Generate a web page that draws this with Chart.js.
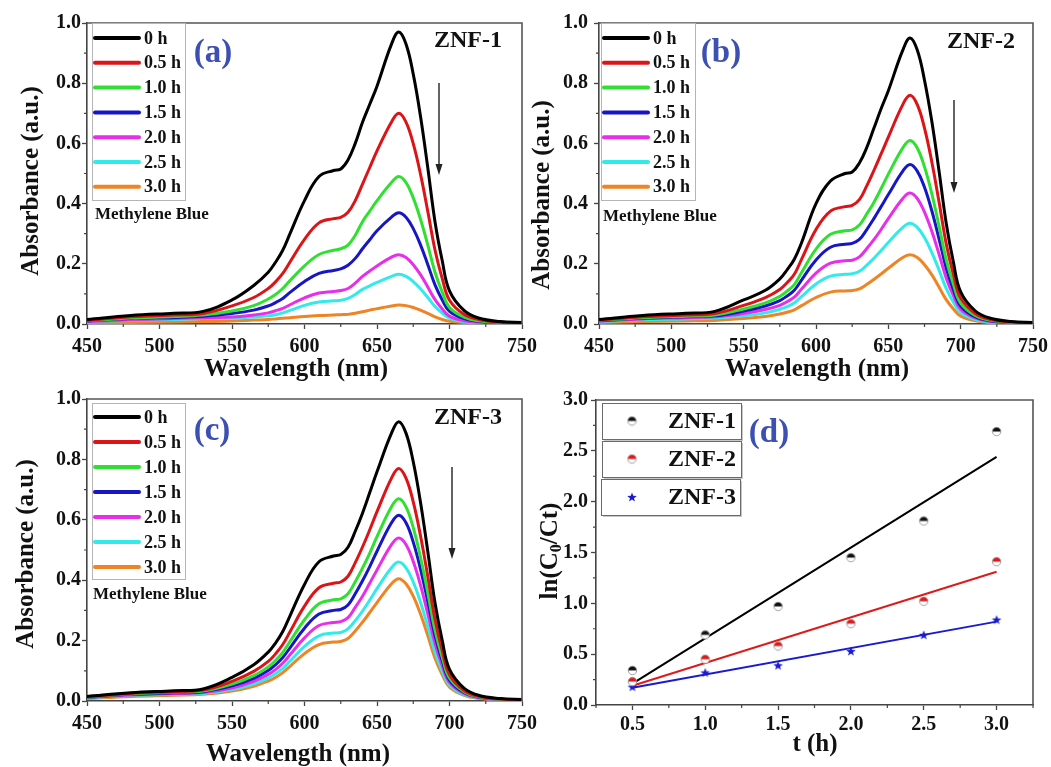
<!DOCTYPE html>
<html>
<head>
<meta charset="utf-8">
<script src="https://cdn.jsdelivr.net/npm/chart.js@4.4.0/dist/chart.umd.min.js"></script>
<style>
html, body { margin: 0; padding: 0; background: #fff; }
#wrap { position: relative; width: 1051px; height: 767px; }
#wrap canvas { position: absolute; left: 0; top: 0; }
</style>
</head>
<body>
<div id="wrap">
  <canvas id="pa" width="1051" height="767"></canvas>
  <canvas id="pb" width="1051" height="767"></canvas>
  <canvas id="pc" width="1051" height="767"></canvas>
  <canvas id="pd" width="1051" height="767"></canvas>
</div>
<script>
'use strict';

// ---- data ----
var wavelengths = [450, 480, 510, 530, 550, 565, 575, 580, 585, 590, 600, 610, 620, 625, 630, 635, 640, 645, 650, 660, 665, 670, 675, 680, 685, 690, 695, 700, 710, 720, 735, 750];
var hours = ['0 h', '0.5 h', '1.0 h', '1.5 h', '2.0 h', '2.5 h', '3.0 h'];

// absorbance, one row per irradiation time (0 h ... 3.0 h)
var znf1Spectra = [
  [0.015, 0.028, 0.036, 0.042, 0.08, 0.128, 0.172, 0.205, 0.245, 0.30, 0.41, 0.49, 0.51, 0.515, 0.545, 0.60, 0.67, 0.73, 0.79, 0.93, 0.97, 0.93, 0.83, 0.69, 0.52, 0.34, 0.21, 0.11, 0.045, 0.02, 0.008, 0.005],
  [0.012, 0.024, 0.030, 0.035, 0.06, 0.088, 0.118, 0.14, 0.168, 0.206, 0.281, 0.336, 0.35, 0.354, 0.371, 0.41, 0.465, 0.52, 0.575, 0.671, 0.70, 0.671, 0.599, 0.498, 0.375, 0.246, 0.151, 0.079, 0.032, 0.015, 0.006, 0.004],
  [0.011, 0.02, 0.025, 0.03, 0.043, 0.061, 0.083, 0.098, 0.118, 0.144, 0.193, 0.231, 0.245, 0.25, 0.262, 0.295, 0.34, 0.375, 0.41, 0.47, 0.49, 0.47, 0.419, 0.348, 0.263, 0.172, 0.106, 0.055, 0.023, 0.011, 0.005, 0.003],
  [0.01, 0.018, 0.022, 0.026, 0.035, 0.046, 0.06, 0.071, 0.085, 0.105, 0.141, 0.168, 0.178, 0.183, 0.195, 0.218, 0.25, 0.28, 0.31, 0.355, 0.37, 0.355, 0.317, 0.263, 0.198, 0.13, 0.08, 0.042, 0.018, 0.009, 0.004, 0.003],
  [0.008, 0.014, 0.018, 0.021, 0.023, 0.03, 0.037, 0.044, 0.052, 0.064, 0.087, 0.103, 0.108, 0.111, 0.118, 0.136, 0.158, 0.176, 0.193, 0.222, 0.23, 0.221, 0.197, 0.164, 0.123, 0.081, 0.05, 0.026, 0.011, 0.006, 0.003, 0.002],
  [0.007, 0.012, 0.015, 0.018, 0.019, 0.023, 0.027, 0.031, 0.037, 0.045, 0.062, 0.073, 0.077, 0.079, 0.085, 0.098, 0.115, 0.127, 0.138, 0.158, 0.165, 0.158, 0.141, 0.117, 0.088, 0.058, 0.036, 0.019, 0.008, 0.004, 0.002, 0.002],
  [0.003, 0.005, 0.007, 0.008, 0.01, 0.013, 0.015, 0.017, 0.019, 0.021, 0.025, 0.028, 0.03, 0.031, 0.032, 0.036, 0.041, 0.046, 0.051, 0.06, 0.063, 0.061, 0.055, 0.046, 0.035, 0.024, 0.015, 0.009, 0.005, 0.003, 0.002, 0.002]
];

var znf2Spectra = [
  [0.015, 0.028, 0.036, 0.042, 0.08, 0.112, 0.15, 0.18, 0.215, 0.27, 0.40, 0.475, 0.50, 0.505, 0.535, 0.585, 0.65, 0.715, 0.775, 0.91, 0.95, 0.91, 0.81, 0.675, 0.51, 0.335, 0.205, 0.107, 0.044, 0.02, 0.008, 0.005],
  [0.013, 0.024, 0.03, 0.035, 0.062, 0.088, 0.115, 0.137, 0.165, 0.215, 0.314, 0.375, 0.39, 0.394, 0.413, 0.458, 0.51, 0.565, 0.621, 0.729, 0.76, 0.729, 0.651, 0.54, 0.407, 0.267, 0.164, 0.086, 0.035, 0.016, 0.007, 0.004],
  [0.012, 0.021, 0.026, 0.03, 0.05, 0.07, 0.092, 0.109, 0.131, 0.171, 0.249, 0.298, 0.31, 0.313, 0.329, 0.365, 0.404, 0.45, 0.498, 0.585, 0.61, 0.585, 0.522, 0.434, 0.327, 0.214, 0.132, 0.069, 0.028, 0.013, 0.005, 0.003],
  [0.011, 0.019, 0.024, 0.027, 0.043, 0.06, 0.078, 0.093, 0.112, 0.146, 0.213, 0.255, 0.265, 0.268, 0.281, 0.313, 0.35, 0.39, 0.43, 0.508, 0.53, 0.508, 0.454, 0.377, 0.284, 0.186, 0.114, 0.06, 0.024, 0.011, 0.005, 0.003],
  [0.01, 0.017, 0.021, 0.024, 0.035, 0.048, 0.062, 0.074, 0.089, 0.116, 0.169, 0.202, 0.21, 0.212, 0.223, 0.25, 0.28, 0.314, 0.35, 0.417, 0.435, 0.417, 0.372, 0.309, 0.233, 0.153, 0.094, 0.049, 0.02, 0.009, 0.004, 0.003],
  [0.008, 0.014, 0.017, 0.02, 0.027, 0.037, 0.049, 0.058, 0.07, 0.091, 0.133, 0.159, 0.165, 0.167, 0.175, 0.195, 0.218, 0.244, 0.271, 0.321, 0.335, 0.321, 0.287, 0.238, 0.18, 0.118, 0.072, 0.038, 0.015, 0.007, 0.003, 0.002],
  [0.005, 0.008, 0.01, 0.012, 0.018, 0.025, 0.033, 0.039, 0.047, 0.061, 0.088, 0.106, 0.11, 0.111, 0.117, 0.131, 0.148, 0.166, 0.185, 0.221, 0.23, 0.221, 0.197, 0.164, 0.123, 0.081, 0.05, 0.026, 0.011, 0.005, 0.003, 0.002]
];

var znf3Spectra = [
  [0.015, 0.027, 0.034, 0.04, 0.078, 0.12, 0.162, 0.192, 0.23, 0.282, 0.386, 0.461, 0.48, 0.485, 0.509, 0.562, 0.622, 0.69, 0.759, 0.887, 0.925, 0.887, 0.792, 0.658, 0.496, 0.325, 0.20, 0.105, 0.043, 0.019, 0.008, 0.005],
  [0.014, 0.025, 0.031, 0.036, 0.065, 0.098, 0.131, 0.156, 0.187, 0.229, 0.314, 0.375, 0.39, 0.394, 0.413, 0.458, 0.51, 0.567, 0.627, 0.738, 0.77, 0.738, 0.659, 0.547, 0.413, 0.27, 0.166, 0.087, 0.035, 0.016, 0.007, 0.004],
  [0.013, 0.023, 0.029, 0.033, 0.056, 0.084, 0.113, 0.134, 0.161, 0.197, 0.269, 0.322, 0.335, 0.338, 0.355, 0.395, 0.44, 0.49, 0.544, 0.643, 0.67, 0.643, 0.574, 0.476, 0.359, 0.235, 0.145, 0.076, 0.031, 0.014, 0.006, 0.004],
  [0.012, 0.022, 0.027, 0.031, 0.05, 0.075, 0.101, 0.12, 0.144, 0.176, 0.241, 0.288, 0.30, 0.303, 0.318, 0.355, 0.398, 0.445, 0.496, 0.59, 0.615, 0.59, 0.526, 0.437, 0.33, 0.216, 0.133, 0.069, 0.028, 0.013, 0.006, 0.003],
  [0.011, 0.02, 0.025, 0.028, 0.043, 0.065, 0.088, 0.104, 0.125, 0.153, 0.209, 0.25, 0.26, 0.263, 0.276, 0.31, 0.347, 0.39, 0.434, 0.518, 0.54, 0.518, 0.462, 0.384, 0.289, 0.19, 0.117, 0.061, 0.025, 0.011, 0.005, 0.003],
  [0.01, 0.018, 0.022, 0.025, 0.038, 0.056, 0.076, 0.09, 0.108, 0.132, 0.181, 0.216, 0.225, 0.227, 0.239, 0.266, 0.298, 0.334, 0.372, 0.441, 0.46, 0.441, 0.394, 0.327, 0.247, 0.161, 0.099, 0.052, 0.021, 0.01, 0.004, 0.003],
  [0.008, 0.015, 0.019, 0.022, 0.033, 0.049, 0.066, 0.078, 0.094, 0.115, 0.157, 0.187, 0.195, 0.197, 0.207, 0.232, 0.261, 0.293, 0.326, 0.388, 0.405, 0.388, 0.347, 0.288, 0.217, 0.142, 0.087, 0.046, 0.019, 0.009, 0.004, 0.002]
];

var waveTicks = [450, 500, 550, 600, 650, 700, 750];
var waveMinor = [475, 525, 575, 625, 675, 725];
var absTicks = [0, 0.2, 0.4, 0.6, 0.8, 1.0];
var absMinor = [0.1, 0.3, 0.5, 0.7, 0.9];

// kinetics, panel (d)
var times = [0.5, 1.0, 1.5, 2.0, 2.5, 3.0];
var lnZnf1 = [0.34, 0.69, 0.97, 1.45, 1.81, 2.69];
var lnZnf2 = [0.23, 0.45, 0.58, 0.80, 1.02, 1.41];
var lnZnf3 = [0.18, 0.32, 0.39, 0.53, 0.69, 0.84];
var fitTimes = [0.5, 3.0];
var fitZnf1 = [0.21, 2.44];
var fitZnf2 = [0.19, 1.31];
var fitZnf3 = [0.17, 0.82];
var timeTicks = [0.5, 1.0, 1.5, 2.0, 2.5, 3.0];
var timeMinor = [0.25, 0.75, 1.25, 1.75, 2.25, 2.75, 3.25];
var lnTicks = [0, 0.5, 1.0, 1.5, 2.0, 2.5, 3.0];
var lnMinor = [0.25, 0.75, 1.25, 1.75, 2.25, 2.75];

var curveColors = ['#000000', '#dc1418', '#30e030', '#1616c4', '#e82ee8', '#32eaea', '#ee8424'];
var FONT = '"Liberation Serif", "Times New Roman", serif';
var LETTER_BLUE = '#3c4fb3';

function bold(size) { return 'bold ' + size + 'px ' + FONT; }

function axis(min, max, ticks, digits, pad, isY) {
  return {
    type: 'linear',
    min: min,
    max: max,
    afterBuildTicks: function(s) { s.ticks = ticks.map(function(v) { return { value: v }; }); },
    afterFit: function(s) {
      if (isY) { s.width = 60; s.paddingTop = 0; s.paddingBottom = 0; }
      else { s.height = 30; s.paddingLeft = 0; s.paddingRight = 0; }
    },
    grid: { drawOnChartArea: false, drawTicks: true, tickLength: 5, tickWidth: 1.3, tickColor: '#444' },
    border: { display: true, color: '#444', width: 1.6 },
    ticks: {
      color: '#111', padding: pad, autoSkip: false, maxRotation: 0,
      font: { family: FONT, size: 20, weight: 'bold' },
      callback: function(v) { return Number(v).toFixed(digits); }
    }
  };
}

function layoutFor(box) {
  return { padding: { left: box.left - 60, top: box.top, right: 1051 - box.right, bottom: 767 - box.bottom - 30 } };
}

function frameAndMinor(ctx, chart, minorX, minorY) {
  var a = chart.chartArea, xs = chart.scales.x, ys = chart.scales.y;
  ctx.strokeStyle = '#555';
  ctx.lineWidth = 1.6;
  ctx.beginPath();
  ctx.moveTo(a.left, a.top); ctx.lineTo(a.right, a.top); ctx.lineTo(a.right, a.bottom);
  ctx.stroke();
  ctx.strokeStyle = '#444';
  ctx.lineWidth = 1.2;
  ctx.beginPath();
  minorX.forEach(function(v) { var p = xs.getPixelForValue(v); ctx.moveTo(p, a.bottom); ctx.lineTo(p, a.bottom + 3); });
  minorY.forEach(function(v) { var p = ys.getPixelForValue(v); ctx.moveTo(a.left - 3, p); ctx.lineTo(a.left, p); });
  ctx.stroke();
}

function rotatedText(ctx, text, cx, cy, font) {
  ctx.save();
  ctx.translate(cx, cy);
  ctx.rotate(-Math.PI / 2);
  ctx.font = font;
  ctx.fillStyle = '#111';
  ctx.textAlign = 'center';
  ctx.textBaseline = 'middle';
  ctx.fillText(text, 0, 0);
  ctx.restore();
}

function spectrumPanel(id, spectra, box, cfg) {
  var datasets = spectra.map(function(row, i) {
    return {
      label: hours[i],
      data: wavelengths.map(function(w, j) { return { x: w, y: row[j] }; }),
      borderColor: curveColors[i],
      borderWidth: 3,
      pointRadius: 0,
      tension: 0.4,
      fill: false
    };
  });

  var deco = {
    id: 'deco',
    afterDraw: function(chart) {
      var ctx = chart.ctx;
      ctx.save();
      frameAndMinor(ctx, chart, waveMinor, absMinor);

      // axis titles
      rotatedText(ctx, 'Absorbance (a.u.)', cfg.yTitle[0], cfg.yTitle[1], bold(25));
      ctx.font = bold(25);
      ctx.fillStyle = '#111';
      ctx.textAlign = 'center';
      ctx.textBaseline = 'middle';
      ctx.fillText('Wavelength (nm)', cfg.xTitle[0], cfg.xTitle[1]);

      // legend box
      var lg = cfg.legend;
      ctx.strokeStyle = '#b5b5b5';
      ctx.lineWidth = 1;
      ctx.strokeRect(lg.x + 0.5, lg.y + 0.5, lg.w, lg.h);
      ctx.font = bold(18);
      ctx.textAlign = 'left';
      hours.forEach(function(h, i) {
        var y = lg.row0 + i * lg.step;
        ctx.strokeStyle = curveColors[i];
        ctx.lineWidth = 4;
        ctx.lineCap = 'round';
        ctx.beginPath();
        ctx.moveTo(lg.x + 3, y); ctx.lineTo(lg.x + 47, y);
        ctx.stroke();
        ctx.fillStyle = '#111';
        ctx.fillText(h, lg.x + 52, y + 1);
      });
      ctx.font = bold(17);
      ctx.fillText('Methylene Blue', cfg.mb[0], cfg.mb[1]);

      // panel letter and sample name
      ctx.font = bold(33);
      ctx.fillStyle = LETTER_BLUE;
      ctx.textAlign = 'center';
      ctx.fillText(cfg.letter, cfg.letterPos[0], cfg.letterPos[1]);
      ctx.font = bold(24);
      ctx.fillStyle = '#111';
      ctx.fillText(cfg.name, cfg.namePos[0], cfg.namePos[1]);

      // downward arrow
      var ar = cfg.arrow;
      ctx.strokeStyle = '#222';
      ctx.lineWidth = 1.4;
      ctx.lineCap = 'butt';
      ctx.beginPath();
      ctx.moveTo(ar[0], ar[1]); ctx.lineTo(ar[0], ar[2] - 8);
      ctx.stroke();
      ctx.fillStyle = '#222';
      ctx.beginPath();
      ctx.moveTo(ar[0] - 3.5, ar[2] - 11); ctx.lineTo(ar[0] + 3.5, ar[2] - 11); ctx.lineTo(ar[0], ar[2]);
      ctx.closePath();
      ctx.fill();
      ctx.restore();
    }
  };

  return new Chart(document.getElementById(id), {
    type: 'line',
    data: { datasets: datasets },
    options: {
      responsive: false,
      animation: false,
      events: [],
      layout: layoutFor(box),
      plugins: { legend: { display: false }, tooltip: { enabled: false } },
      scales: {
        x: axis(450, 750, waveTicks, 0, cfg.padX, false),
        y: axis(0, 1.0, absTicks, 1, cfg.padY, true)
      }
    },
    plugins: [deco]
  });
}

spectrumPanel('pa', znf1Spectra, { left: 87, top: 23, right: 522, bottom: 324 }, {
  padX: 6, padY: 1,
  yTitle: [32, 181], xTitle: [296, 370],
  legend: { x: 92, y: 23, w: 93, h: 177, row0: 38, step: 24.8 },
  mb: [95, 215],
  letter: '(a)', letterPos: [213, 53],
  name: 'ZNF-1', namePos: [468, 41],
  arrow: [439, 83, 175]
});

spectrumPanel('pb', znf2Spectra, { left: 599, top: 23, right: 1033, bottom: 324 }, {
  padX: 6, padY: 6,
  yTitle: [543, 195], xTitle: [817, 370],
  legend: { x: 601, y: 23, w: 94, h: 177, row0: 38, step: 24.8 },
  mb: [603, 217],
  letter: '(b)', letterPos: [721, 53],
  name: 'ZNF-2', namePos: [981, 42],
  arrow: [954, 100, 193]
});

spectrumPanel('pc', znf3Spectra, { left: 87, top: 399, right: 522, bottom: 701 }, {
  padX: 6, padY: 1,
  yTitle: [27, 554], xTitle: [298, 755],
  legend: { x: 92, y: 403, w: 93, h: 176, row0: 417, step: 25 },
  mb: [93, 595],
  letter: '(c)', letterPos: [212, 431],
  name: 'ZNF-3', namePos: [468, 418],
  arrow: [452, 467, 559]
});

// ---- panel (d) ----
function halfDot(color) {
  var c = document.createElement('canvas');
  c.width = 11; c.height = 11;
  var g = c.getContext('2d');
  g.beginPath(); g.arc(5.5, 5.5, 4.2, 0, 2 * Math.PI); g.fillStyle = '#fff'; g.fill();
  g.beginPath(); g.arc(5.5, 5.5, 4.2, Math.PI, 2 * Math.PI); g.closePath(); g.fillStyle = color; g.fill();
  g.beginPath(); g.arc(5.5, 5.5, 4.2, 0, 2 * Math.PI); g.strokeStyle = '#8a8a8a'; g.lineWidth = 0.8; g.stroke();
  return c;
}

function starDot(color) {
  var c = document.createElement('canvas');
  c.width = 12; c.height = 12;
  var g = c.getContext('2d');
  g.beginPath();
  for (var k = 0; k < 10; k++) {
    var r = k % 2 === 0 ? 5 : 2.1;
    var ang = -Math.PI / 2 + k * Math.PI / 5;
    var px = 6 + r * Math.cos(ang), py = 6.5 + r * Math.sin(ang);
    if (k === 0) g.moveTo(px, py); else g.lineTo(px, py);
  }
  g.closePath();
  g.fillStyle = color;
  g.fill();
  return c;
}

var markers = [halfDot('#111111'), halfDot('#e01818'), starDot('#1a1ad0')];
var kinNames = ['ZNF-1', 'ZNF-2', 'ZNF-3'];
var kinColors = ['#000000', '#dc1c1c', '#1a1ad0'];
var kinSeries = [lnZnf1, lnZnf2, lnZnf3];
var kinFits = [fitZnf1, fitZnf2, fitZnf3];

var kinDatasets = [];
kinSeries.forEach(function(vals, i) {
  kinDatasets.push({
    label: kinNames[i],
    data: times.map(function(t, j) { return { x: t, y: vals[j] }; }),
    showLine: false,
    pointStyle: markers[i],
    pointRadius: 5,
    order: 0
  });
  kinDatasets.push({
    label: kinNames[i] + ' fit',
    data: fitTimes.map(function(t, j) { return { x: t, y: kinFits[i][j] }; }),
    borderColor: kinColors[i],
    borderWidth: 2,
    pointRadius: 0,
    order: 1
  });
});

var decoD = {
  id: 'decoD',
  afterDraw: function(chart) {
    var ctx = chart.ctx;
    ctx.save();
    frameAndMinor(ctx, chart, timeMinor, lnMinor);

    // y title ln(C0/Ct) with subscript
    ctx.save();
    ctx.translate(551, 551);
    ctx.rotate(-Math.PI / 2);
    ctx.fillStyle = '#111';
    ctx.textBaseline = 'middle';
    ctx.textAlign = 'left';
    var big = bold(25), small = bold(16);
    ctx.font = big; var w1 = ctx.measureText('ln(C').width, w3 = ctx.measureText('/Ct)').width;
    ctx.font = small; var w2 = ctx.measureText('0').width;
    var x0 = -(w1 + w2 + w3) / 2;
    ctx.font = big; ctx.fillText('ln(C', x0, 0);
    ctx.font = small; ctx.fillText('0', x0 + w1, 6);
    ctx.font = big; ctx.fillText('/Ct)', x0 + w1 + w2, 0);
    ctx.restore();

    ctx.font = bold(25);
    ctx.fillStyle = '#111';
    ctx.textAlign = 'center';
    ctx.textBaseline = 'middle';
    ctx.fillText('t (h)', 815, 745);

    // legend boxes
    var boxes = [[602, 403], [602, 441], [601, 479]];
    boxes.forEach(function(b, i) {
      ctx.fillStyle = '#c8c8c8';
      ctx.fillRect(b[0] + 2, b[1] + 2, 139, 36);
      ctx.fillStyle = '#fff';
      ctx.fillRect(b[0], b[1], 139, 36);
      ctx.strokeStyle = '#6a6a6a';
      ctx.lineWidth = 1;
      ctx.strokeRect(b[0] + 0.5, b[1] + 0.5, 139, 36);
      var cy = b[1] + 18;
      ctx.drawImage(markers[i], 632 - markers[i].width / 2, cy - markers[i].height / 2);
      ctx.fillStyle = '#111';
      ctx.font = bold(24);
      ctx.textAlign = 'left';
      ctx.fillText(kinNames[i], 668, cy + 1);
    });

    ctx.font = bold(33);
    ctx.fillStyle = LETTER_BLUE;
    ctx.textAlign = 'center';
    ctx.fillText('(d)', 769, 433);
    ctx.restore();
  }
};

new Chart(document.getElementById('pd'), {
  type: 'line',
  data: { datasets: kinDatasets },
  options: {
    responsive: false,
    animation: false,
    events: [],
    layout: layoutFor({ left: 596, top: 400, right: 1033, bottom: 705 }),
    plugins: { legend: { display: false }, tooltip: { enabled: false } },
    scales: {
      x: axis(0.25, 3.25, timeTicks, 1, 3, false),
      y: axis(0, 3.0, lnTicks, 1, 3, true)
    }
  },
  plugins: [decoD]
});
</script>
</body>
</html>
